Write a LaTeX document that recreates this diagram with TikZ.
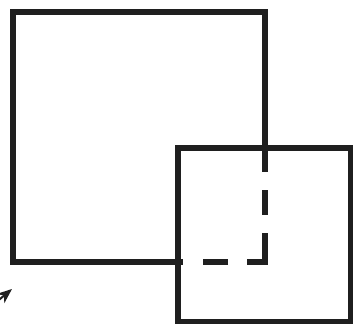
\documentclass[tikz,border=0pt]{standalone}
\usetikzlibrary{arrows.meta}
\begin{document}
\begin{tikzpicture}[x=1pt,y=-1pt,
  edge/.style={line width=5.5pt, draw=black!88, line join=miter, line cap=butt},
  pointer/.style={draw=black!88, line width=2pt, -{Stealth[length=15pt,width=12pt]}}]
\useasboundingbox (0,0) rectangle (353,325);
\clip (0,0) rectangle (353,325);
\fill[white] (0,0) rectangle (353,325);
% big square corners
\coordinate (tl) at (13,12);
\coordinate (tr) at (265,12);
\coordinate (bl) at (13,262);
\coordinate (br) at (265,262);
% small square corners
\coordinate (stl) at (178,148);
\coordinate (sbr) at (351,321.5);
% small square
\draw[edge] (stl) rectangle (sbr);
% visible part of big square
\draw[edge] (265,148) -- (tr) -- (tl) -- (bl) -- (183,262);
% hidden part (dashed)
\draw[edge] (265,148) -- (265,172);
\draw[edge] (265,190) -- (265,215);
\draw[edge] (265,233) -- (br) -- (247,262);
\draw[edge] (228,262) -- (203,262);
% pointer arrow
\coordinate (ptail) at (-6,304);
\coordinate (ptip) at (12,289);
\draw[pointer] (ptail) -- (ptip);
\end{tikzpicture}
\end{document}
